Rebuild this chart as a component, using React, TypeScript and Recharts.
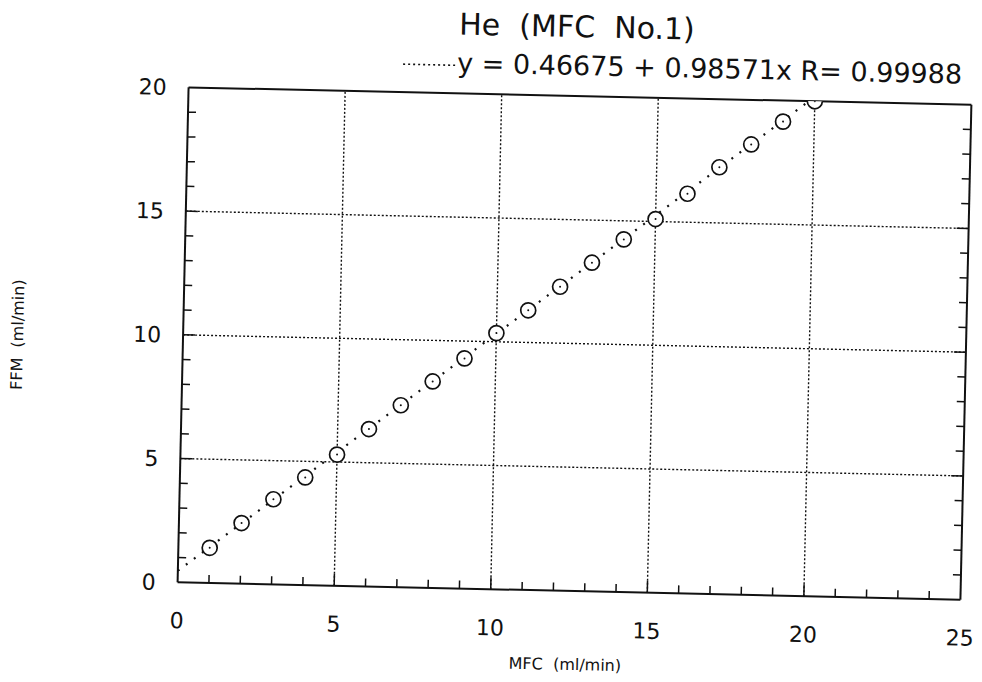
import React from 'react';
import { ComposedChart, Scatter, Line, XAxis, YAxis, ReferenceLine } from 'recharts';

const mfcValues = [1, 2, 3, 4, 5, 6, 7, 8, 9, 10, 11, 12, 13, 14, 15, 16, 17, 18, 19, 20];
const ffmValues = [1.42, 2.45, 3.44, 4.35, 5.3, 6.36, 7.35, 8.34, 9.3, 10.35, 11.3, 12.28, 13.28, 14.25, 15.1, 16.15, 17.25, 18.2, 19.15, 20.0];

const xTicks = [0, 1, 2, 3, 4, 5, 6, 7, 8, 9, 10, 11, 12, 13, 14, 15, 16, 17, 18, 19, 20, 21, 22, 23, 24, 25];
const yTicks = [0, 1, 2, 3, 4, 5, 6, 7, 8, 9, 10, 11, 12, 13, 14, 15, 16, 17, 18, 19, 20];
const xLabelTicks = [0, 5, 10, 15, 20, 25];
const yLabelTicks = [0, 5, 10, 15, 20];
const xGrid = [5, 10, 15, 20];
const yGrid = [5, 10, 15];

const fitIntercept = 0.46675;
const fitSlope = 0.98571;
const fitR = 0.99988;
const fitXStart = 0;
const fitXEnd = 19.82;

const titleText = 'He  (MFC  No.1)';
const xAxisTitle = 'MFC  (ml/min)';
const yAxisTitle = 'FFM  (ml/min)';

const points = mfcValues.map((x, i) => ({ x, y: ffmValues[i] }));
const fitData = [fitXStart, fitXEnd].map((x) => ({ x, fit: fitIntercept + fitSlope * x }));

const FONT = '"DejaVu Sans", sans-serif';
const INK = '#111';

const BottomTick = (props: any) => {
  const { x, y, payload } = props;
  const v = payload.value;
  const major = v % 5 === 0;
  return (
    <g>
      {v > 0 && v < 25 && (
        <line x1={x} y1={y} x2={x} y2={y - (major ? 12 : 8)} stroke={INK} strokeWidth={1.5} />
      )}
      {xLabelTicks.includes(v) && (
        <text x={x} y={y + 46} textAnchor="middle" fontSize={22} fontFamily={FONT} fill={INK}>
          {v}
        </text>
      )}
    </g>
  );
};

const TopTick = (props: any) => {
  const { x, y, payload } = props;
  const v = payload.value;
  if (v <= 0 || v >= 25) return <g />;
  return <line x1={x} y1={y} x2={x} y2={y + (v % 5 === 0 ? 12 : 8)} stroke={INK} strokeWidth={1.5} />;
};

const LeftTick = (props: any) => {
  const { x, y, payload } = props;
  const v = payload.value;
  return (
    <g>
      {v > 0 && v < 20 && (
        <line x1={x} y1={y} x2={x + (v % 5 === 0 ? 12 : 8)} y2={y} stroke={INK} strokeWidth={1.5} />
      )}
      {yLabelTicks.includes(v) && (
        <text x={x - 22} y={y + 8} textAnchor="end" fontSize={22} fontFamily={FONT} fill={INK}>
          {v}
        </text>
      )}
    </g>
  );
};

const RightTick = (props: any) => {
  const { x, y, payload } = props;
  const v = payload.value;
  if (v <= 0 || v >= 20) return <g />;
  return <line x1={x} y1={y} x2={x - (v % 5 === 0 ? 12 : 8)} y2={y} stroke={INK} strokeWidth={1.5} />;
};

const CircleDot = (props: any) => {
  const { cx, cy } = props;
  if (cx == null || cy == null) return <g />;
  return (
    <g>
      <circle cx={cx} cy={cy} r={7.5} fill="#fff" stroke={INK} strokeWidth={1.7} />
      <circle cx={cx} cy={cy} r={1} fill={INK} />
    </g>
  );
};

export default function App() {
  return (
    <div
      style={{
        position: 'absolute',
        left: 0,
        top: 0,
        width: 982,
        height: 682,
        background: '#fff',
        fontFamily: FONT,
        color: INK,
        transform: 'rotate(1.27deg)',
        transformOrigin: '574px 343px',
      }}
    >
      <div
        style={{
          position: 'absolute',
          left: 370,
          width: 400,
          top: 10,
          lineHeight: '34px',
          fontSize: 30,
          textAlign: 'center',
          whiteSpace: 'pre',
        }}
      >
        {titleText}
      </div>
      <div
        style={{
          position: 'absolute',
          left: 395,
          top: 48,
          height: 34,
          display: 'flex',
          alignItems: 'center',
          whiteSpace: 'pre',
          fontSize: 27,
        }}
      >
        <svg width={56} height={34} style={{ display: 'block' }}>
          <line x1={2} y1={20} x2={54} y2={20} stroke={INK} strokeWidth={1.6} strokeDasharray="2 3" />
        </svg>
        <span>{`y = ${fitIntercept} + ${fitSlope}x R= ${fitR}`}</span>
      </div>
      <div
        style={{
          position: 'absolute',
          left: 372,
          width: 400,
          top: 654,
          fontSize: 16,
          lineHeight: '22px',
          textAlign: 'center',
          whiteSpace: 'pre',
        }}
      >
        {xAxisTitle}
      </div>
      <div
        style={{
          position: 'absolute',
          left: 18 - 100,
          width: 200,
          top: 347 - 11,
          fontSize: 16,
          lineHeight: '22px',
          textAlign: 'center',
          whiteSpace: 'pre',
          transform: 'rotate(-90deg)',
        }}
      >
        {yAxisTitle}
      </div>
      <div style={{ position: 'absolute', left: 0, top: 0 }}>
        <ComposedChart
          width={982}
          height={682}
          margin={{ top: 95, right: 15, bottom: 90, left: 182 }}
        >
          <XAxis
            xAxisId={0}
            dataKey="x"
            type="number"
            domain={[0, 25]}
            ticks={xTicks}
            interval={0}
            height={1}
            tickSize={0}
            tickMargin={0}
            tickLine={false}
            axisLine={{ stroke: INK, strokeWidth: 2 }}
            tick={<BottomTick />}
            allowDataOverflow
          />
          <XAxis
            xAxisId="top"
            orientation="top"
            type="number"
            domain={[0, 25]}
            ticks={xTicks}
            interval={0}
            height={1}
            tickSize={0}
            tickMargin={0}
            tickLine={false}
            axisLine={{ stroke: INK, strokeWidth: 2 }}
            tick={<TopTick />}
            allowDataOverflow
          />
          <YAxis
            yAxisId={0}
            type="number"
            domain={[0, 20]}
            ticks={yTicks}
            interval={0}
            width={1}
            tickSize={0}
            tickMargin={0}
            tickLine={false}
            axisLine={{ stroke: INK, strokeWidth: 2 }}
            tick={<LeftTick />}
            allowDataOverflow
          />
          <YAxis
            yAxisId="right"
            orientation="right"
            type="number"
            domain={[0, 20]}
            ticks={yTicks}
            interval={0}
            width={1}
            tickSize={0}
            tickMargin={0}
            tickLine={false}
            axisLine={{ stroke: INK, strokeWidth: 2 }}
            tick={<RightTick />}
            allowDataOverflow
          />
          {xGrid.map((v) => (
            <ReferenceLine key={`gx${v}`} x={v} xAxisId={0} yAxisId={0} stroke={INK} strokeWidth={1.4} strokeDasharray="2 2" />
          ))}
          {yGrid.map((v) => (
            <ReferenceLine key={`gy${v}`} y={v} xAxisId={0} yAxisId={0} stroke={INK} strokeWidth={1.4} strokeDasharray="2 2" />
          ))}
          <Line
            data={fitData}
            dataKey="fit"
            xAxisId={0}
            yAxisId={0}
            type="linear"
            stroke={INK}
            strokeWidth={2.2}
            strokeDasharray="2 8"
            dot={false}
            activeDot={false}
            isAnimationActive={false}
          />
          <Scatter
            data={points}
            dataKey="y"
            xAxisId={0}
            yAxisId={0}
            shape={<CircleDot />}
            isAnimationActive={false}
          />
        </ComposedChart>
      </div>
    </div>
  );
}
